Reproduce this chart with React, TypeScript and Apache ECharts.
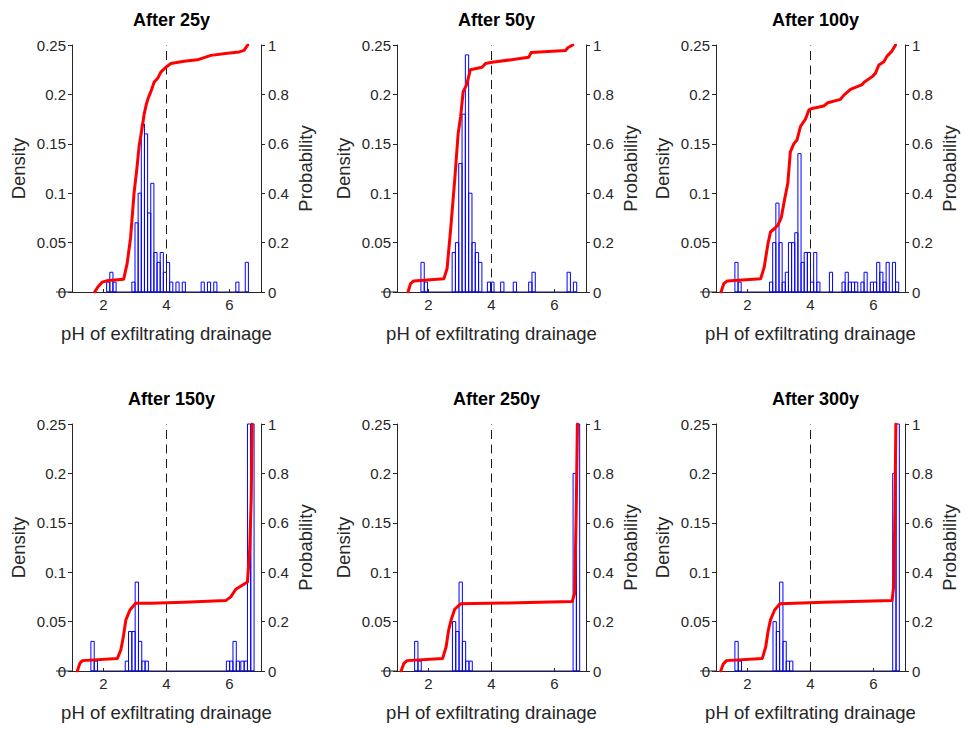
import React, { useEffect, useRef } from 'react';
import * as echarts from 'echarts';

// ---------- data ----------
const titles = ['After 25y', 'After 50y', 'After 100y', 'After 150y', 'After 250y', 'After 300y'];
const xTickValues = [2, 4, 6];
const thresholdPH = 4;
const binWidths = [0.1, 0.105, 0.1, 0.105, 0.105, 0.105];

// histogram bins: [left edge (pH), probability]
const hist25 = [[2.1, 0.01], [2.2, 0.02], [2.3, 0.01], [2.9, 0.01], [3.0, 0.07], [3.1, 0.10], [3.2, 0.17], [3.3, 0.16], [3.4, 0.08], [3.5, 0.11], [3.6, 0.04], [3.7, 0.03], [3.8, 0.04], [3.9, 0.02], [4.0, 0.03], [4.1, 0.01], [4.3, 0.01], [4.5, 0.01], [5.1, 0.01], [5.3, 0.01], [5.5, 0.01], [6.2, 0.01], [6.5, 0.03]];
const hist50 = [[1.76, 0.03], [1.865, 0.01], [2.75, 0.04], [2.855, 0.05], [2.96, 0.13], [3.065, 0.18], [3.17, 0.24], [3.275, 0.10], [3.38, 0.05], [3.485, 0.04], [3.59, 0.03], [3.87, 0.01], [3.975, 0.01], [4.29, 0.01], [4.69, 0.01], [5.18, 0.01], [5.285, 0.02], [6.40, 0.02], [6.60, 0.01]];
const hist100 = [[1.6, 0.03], [1.7, 0.01], [2.7, 0.01], [2.8, 0.05], [2.9, 0.09], [3.0, 0.05], [3.1, 0.01], [3.2, 0.02], [3.3, 0.05], [3.4, 0.05], [3.5, 0.06], [3.6, 0.14], [3.7, 0.03], [3.8, 0.04], [3.9, 0.04], [4.0, 0.01], [4.1, 0.04], [4.2, 0.01], [4.6, 0.02], [5.0, 0.01], [5.1, 0.02], [5.2, 0.01], [5.3, 0.01], [5.4, 0.01], [5.6, 0.01], [5.7, 0.02], [5.9, 0.01], [6.0, 0.01], [6.1, 0.03], [6.2, 0.02], [6.3, 0.01], [6.4, 0.03], [6.6, 0.03], [6.7, 0.01]];
const hist150 = [[1.60, 0.03], [1.705, 0.01], [2.69, 0.01], [2.795, 0.04], [2.90, 0.04], [3.005, 0.09], [3.11, 0.03], [3.215, 0.01], [3.32, 0.01], [5.90, 0.01], [6.005, 0.01], [6.11, 0.03], [6.215, 0.01], [6.36, 0.01], [6.465, 0.01], [6.57, 0.30], [6.675, 0.35]];
const hist250 = [[1.56, 0.03], [1.665, 0.01], [2.76, 0.05], [2.865, 0.04], [2.97, 0.09], [3.075, 0.03], [3.18, 0.01], [3.285, 0.01], [6.59, 0.20], [6.695, 0.53]];
const hist300 = [[1.60, 0.03], [1.705, 0.01], [2.81, 0.05], [2.915, 0.04], [3.02, 0.09], [3.125, 0.03], [3.23, 0.01], [3.335, 0.01], [6.61, 0.20], [6.715, 0.53]];

// cumulative probability curves: [pH, probability]
const cdf25 = [[1.72, 0], [1.82, 0.02], [1.96, 0.04], [2.15, 0.047], [2.64, 0.052], [2.75, 0.115], [2.86, 0.22], [2.97, 0.4], [3.06, 0.5], [3.13, 0.59], [3.22, 0.66], [3.29, 0.72], [3.36, 0.76], [3.42, 0.785], [3.5, 0.81], [3.61, 0.85], [3.72, 0.865], [3.82, 0.89], [3.98, 0.91], [4.14, 0.925], [4.56, 0.934], [4.98, 0.94], [5.41, 0.958], [5.94, 0.967], [6.31, 0.972], [6.46, 0.978], [6.58, 1.0]];
const cdf50 = [[1.35, 0], [1.43, 0.034], [1.53, 0.045], [2.49, 0.054], [2.59, 0.095], [2.7, 0.25], [2.83, 0.45], [2.94, 0.64], [3.02, 0.71], [3.1, 0.81], [3.21, 0.84], [3.33, 0.9], [3.7, 0.91], [3.81, 0.925], [4.02, 0.93], [5.18, 0.95], [5.26, 0.97], [6.35, 0.978], [6.43, 0.99], [6.58, 1.0]];
const cdf100 = [[1.16, 0], [1.25, 0.034], [1.36, 0.045], [2.42, 0.054], [2.53, 0.1], [2.65, 0.196], [2.73, 0.243], [2.86, 0.257], [2.96, 0.27], [3.07, 0.3], [3.17, 0.37], [3.28, 0.44], [3.36, 0.567], [3.47, 0.6], [3.57, 0.615], [3.68, 0.67], [3.84, 0.7], [3.95, 0.737], [4.05, 0.743], [4.42, 0.753], [4.55, 0.766], [4.95, 0.78], [5.06, 0.797], [5.27, 0.82], [5.64, 0.84], [5.71, 0.85], [5.96, 0.872], [6.06, 0.885], [6.17, 0.919], [6.33, 0.932], [6.43, 0.955], [6.57, 0.973], [6.7, 1.0]];
const cdf150 = [[1.17, 0], [1.25, 0.031], [1.33, 0.042], [2.44, 0.051], [2.55, 0.085], [2.63, 0.139], [2.71, 0.207], [2.84, 0.247], [3.02, 0.274], [3.5, 0.274], [4.56, 0.278], [5.88, 0.285], [6.04, 0.3], [6.2, 0.331], [6.57, 0.36], [6.64, 0.49], [6.69, 0.7], [6.72, 1.0]];
const cdf250 = [[1.13, 0], [1.22, 0.031], [1.32, 0.042], [2.45, 0.051], [2.56, 0.098], [2.64, 0.166], [2.72, 0.207], [2.83, 0.25], [3.02, 0.272], [4.34, 0.275], [6.56, 0.281], [6.64, 0.315], [6.69, 0.65], [6.73, 1.0]];
const cdf300 = [[1.15, 0], [1.23, 0.028], [1.33, 0.042], [2.47, 0.051], [2.58, 0.098], [2.65, 0.159], [2.73, 0.207], [2.86, 0.247], [3.03, 0.272], [4.42, 0.278], [6.59, 0.285], [6.64, 0.343], [6.68, 0.65], [6.71, 1.0]];

const histograms = [hist25, hist50, hist100, hist150, hist250, hist300];
const cdfs = [cdf25, cdf50, cdf100, cdf150, cdf250, cdf300];

// ---------- layout ----------
const GRID_LEFTS = [72, 397, 716];
const GRID_TOPS = [45, 424];
const GRID_W = 189;
const GRID_H = 247;
const X_MIN = 1;
const X_MAX = 7;
const DENS_MAX = 0.25;

export default function App() {
  const ref = useRef<HTMLDivElement>(null);
  useEffect(() => {
    const chart = echarts.init(ref.current as HTMLDivElement, null, { renderer: 'svg' });
    const font = '"Liberation Sans", Arial, Helvetica, sans-serif';
    const ink = '#262626';
    const grid: any[] = [];
    const xAxis: any[] = [];
    const yAxis: any[] = [];
    const series: any[] = [];
    const title: any[] = [];
    const graphic: any[] = [];
    const fmt = (v: number) => String(Math.round(v * 100) / 100);
    const tickFont = 15;
    const nameFont = 18.5;

    for (let i = 0; i < 6; i++) {
      const col = i % 3;
      const row = Math.floor(i / 3);
      const left = GRID_LEFTS[col];
      const top = GRID_TOPS[row];
      grid.push({ left, top, width: GRID_W, height: GRID_H });
      title.push({
        text: titles[i],
        left: left + GRID_W / 2,
        top: row === 0 ? 6 : 385,
        textAlign: 'center',
        textStyle: { fontFamily: font, fontSize: 18, fontWeight: 'bold', color: '#000' },
      });
      graphic.push({
        type: 'line', silent: true, z: 10,
        shape: { x1: left - 16, y1: top + GRID_H, x2: left, y2: top + GRID_H },
        style: { stroke: ink, lineWidth: 1 },
      });
      xAxis.push({
        type: 'value', gridIndex: i, min: X_MIN, max: X_MAX,
        name: 'pH of exfiltrating drainage', nameLocation: 'middle', nameGap: 32,
        nameTextStyle: { fontFamily: font, fontSize: nameFont, color: ink },
        axisLine: { show: true, onZero: false, lineStyle: { color: ink, width: 1 } },
        axisTick: { show: true, inside: true, length: 3, customValues: xTickValues, lineStyle: { color: ink } },
        axisLabel: { customValues: xTickValues, color: ink, fontSize: tickFont, fontFamily: font, margin: 5 },
        splitLine: { show: false },
      });
      yAxis.push({
        type: 'value', gridIndex: i, position: 'left', min: 0, max: DENS_MAX, interval: 0.05,
        name: 'Density', nameLocation: 'middle', nameRotate: 90, nameGap: 44,
        nameTextStyle: { fontFamily: font, fontSize: nameFont, color: ink },
        axisLine: { show: true, onZero: false, lineStyle: { color: ink, width: 1 } },
        axisTick: { show: true, inside: false, length: 4, lineStyle: { color: ink } },
        axisLabel: { color: ink, fontSize: tickFont, fontFamily: font, margin: 6, formatter: fmt },
        splitLine: { show: false },
      });
      yAxis.push({
        type: 'value', gridIndex: i, position: 'right', min: 0, max: 1, interval: 0.2,
        name: 'Probability', nameLocation: 'middle', nameRotate: 90, nameGap: 35,
        nameTextStyle: { fontFamily: font, fontSize: nameFont, color: ink },
        axisLine: { show: true, onZero: false, lineStyle: { color: ink, width: 1 } },
        axisTick: { show: true, inside: false, length: 4, lineStyle: { color: ink } },
        axisLabel: { color: ink, fontSize: tickFont, fontFamily: font, margin: 7, formatter: fmt },
        splitLine: { show: false },
      });

      const hist = histograms[i];
      const w = binWidths[i];
      series.push({
        type: 'custom', xAxisIndex: i, yAxisIndex: 2 * i, z: 2, silent: true,
        encode: { x: 0, y: 1 },
        data: hist.map(([l, v]) => [l, v, w]),
        renderItem: (params: any, api: any) => {
          const x0 = api.value(0);
          const h = Math.min(api.value(1), DENS_MAX);
          const bw = api.value(2);
          const p0 = api.coord([x0, 0]);
          const p1 = api.coord([x0 + bw, h]);
          return {
            type: 'rect',
            shape: { x: p0[0], y: p1[1], width: p1[0] - p0[0], height: p0[1] - p1[1] },
            style: { fill: 'none', stroke: '#0000ff', lineWidth: 1 },
          };
        },
      });
      const first = hist[0][0];
      const last = hist[hist.length - 1][0] + w;
      series.push({
        type: 'line', xAxisIndex: i, yAxisIndex: 2 * i, z: 3, silent: true,
        data: [[first, 0], [last, 0]], symbol: 'none',
        lineStyle: { color: '#14148c', width: 1.2 },
      });
      series.push({
        type: 'line', xAxisIndex: i, yAxisIndex: 2 * i, z: 4, silent: true,
        data: [[thresholdPH, 0], [thresholdPH, DENS_MAX]], symbol: 'none',
        lineStyle: { color: '#1a1a1a', width: 1, type: [9, 5.5] },
      });
      series.push({
        type: 'line', xAxisIndex: i, yAxisIndex: 2 * i + 1, z: 5, silent: true,
        data: cdfs[i], symbol: 'none',
        lineStyle: { color: '#ff0000', width: 3, cap: 'round', join: 'round' },
      });
    }

    chart.setOption({
      animation: false,
      backgroundColor: '#ffffff',
      title, grid, xAxis, yAxis, series, graphic,
    });
    return () => chart.dispose();
  }, []);
  return <div ref={ref} style={{ position: 'fixed', left: 0, top: 0, width: '969px', height: '732px' }} />;
}
